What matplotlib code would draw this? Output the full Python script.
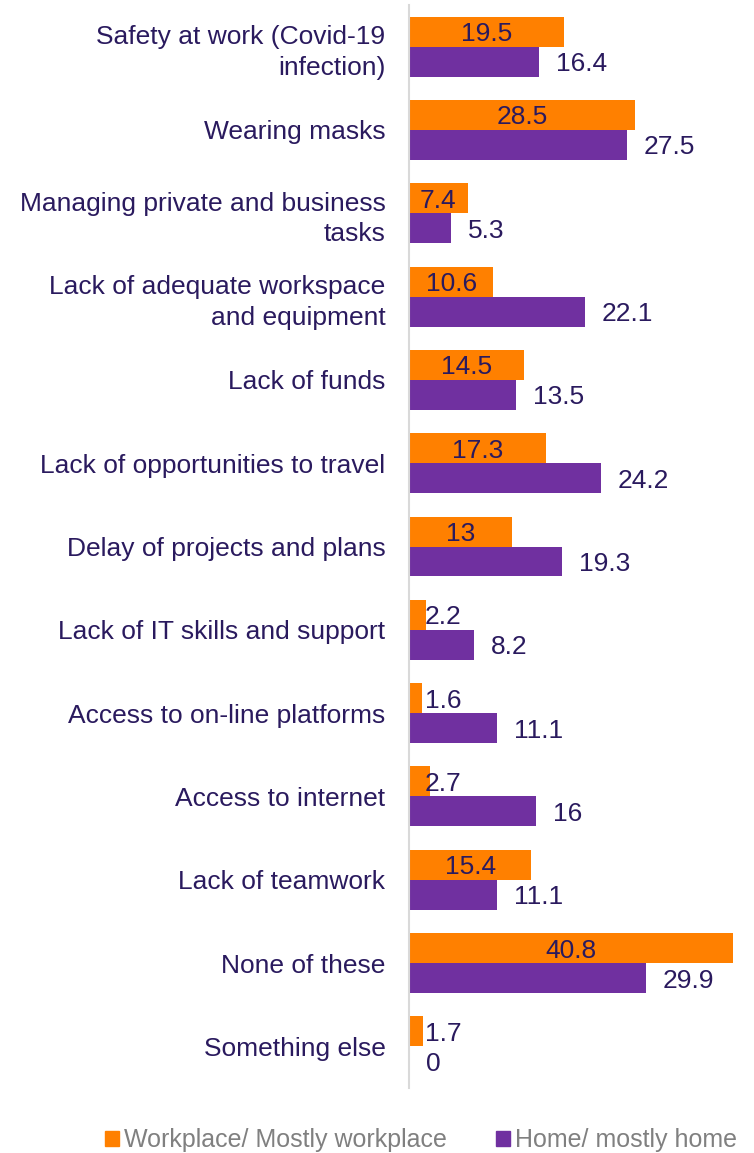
import matplotlib.pyplot as plt
import numpy as np
from matplotlib.patches import Patch

plt.rcParams["font.family"] = ["Liberation Sans", "DejaVu Sans"]

categories = [
    "Safety at work (Covid-19\ninfection)",
    "Wearing masks",
    "Managing private and business\ntasks",
    "Lack of adequate workspace\nand equipment",
    "Lack of funds",
    "Lack of opportunities to travel",
    "Delay of projects and plans",
    "Lack of IT skills and support",
    "Access to on-line platforms",
    "Access to internet",
    "Lack of teamwork",
    "None of these",
    "Something else",
]
workplace = [19.5, 28.5, 7.4, 10.6, 14.5, 17.3, 13, 2.2, 1.6, 2.7, 15.4, 40.8, 1.7]
home = [16.4, 27.5, 5.3, 22.1, 13.5, 24.2, 19.3, 8.2, 11.1, 16, 11.1, 29.9, 0]
series_names = ["Workplace/ Mostly workplace", "Home/ mostly home"]

ORANGE = "#FF8000"
PURPLE = "#7030A0"
TEXT = "#2A1A5E"
FS = 19

W, H = 754, 1153
fig = plt.figure(figsize=(W / 100, H / 100), dpi=100, facecolor="white")
ax = fig.add_axes([409 / W, (H - 1088) / H, (733 - 409) / W, (1088 - 5) / H])

y = np.arange(len(categories))
bh = 0.36
ax.barh(y - bh / 2, workplace, height=bh, color=ORANGE)
ax.barh(y + bh / 2, home, height=bh, color=PURPLE)

ax.set_xlim(0, 40.8)
ax.set_ylim(len(categories) - 0.5, -0.5)
ax.set_xticks([])
ax.set_yticks(y)
ax.set_yticklabels(categories, fontsize=FS, color=TEXT, linespacing=1.35)
ax.tick_params(axis="y", length=0, pad=17)
for s in ["top", "right", "bottom"]:
    ax.spines[s].set_visible(False)
ax.spines["left"].set_color("#D9D9D9")
ax.spines["left"].set_linewidth(1.5)

for yi, v in zip(y, workplace):
    if v >= 5:
        ax.text(v / 2, yi - bh / 2, f"{v:g}", ha="center", va="center_baseline", fontsize=FS, color=TEXT)
    else:
        ax.text(2.0, yi - bh / 2, f"{v:g}", ha="left", va="center_baseline", fontsize=FS, color=TEXT)
for yi, v in zip(y, home):
    ax.annotate(f"{v:g}", (v, yi + bh / 2), xytext=(12, 0), textcoords="offset points",
                ha="left", va="center_baseline", fontsize=FS, color=TEXT)

handles = [Patch(color=ORANGE), Patch(color=PURPLE)]
fig.legend(handles, series_names, loc="center", bbox_to_anchor=(421 / W, (H - 1140) / H),
           ncol=2, frameon=False, fontsize=18, labelcolor="#808080",
           handlelength=0.55, handleheight=0.55, handletextpad=0.2, columnspacing=2.0)

fig.savefig("out.png", dpi=100, facecolor="white")
